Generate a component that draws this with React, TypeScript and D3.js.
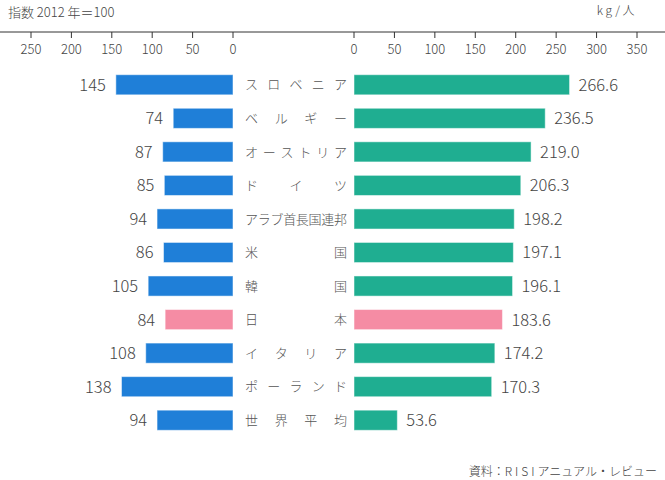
import React from "react";
import * as d3 from "d3";

const categories = ["スロベニア", "ベルギー", "オーストリア", "ドイツ", "アラブ首長国連邦", "米国", "韓国", "日本", "イタリア", "ポーランド", "世界平均"];
const indexValues = [145, 74, 87, 85, 94, 86, 105, 84, 108, 138, 94];
const kgValues = [266.6, 236.5, 219.0, 206.3, 198.2, 197.1, 196.1, 183.6, 174.2, 170.3, 53.6];
const leftTicks = [0, 50, 100, 150, 200, 250];
const rightTicks = [0, 50, 100, 150, 200, 250, 300, 350];
const highlight = "日本";

const W = 665, H = 480;
const FONT = "'Noto Sans CJK JP', 'Noto Sans', sans-serif";
const BLUE = "#1f7fd8", GREEN = "#1fae91", PINK = "#f58ca4";

export default function App() {
  const xL = d3.scaleLinear().domain([0, 250]).range([233, 31]);
  const xR = d3.scaleLinear().domain([0, 350]).range([354, 637]);
  const y = d3.scaleBand().domain(categories).range([68, 437]).paddingInner(0.4).paddingOuter(0.2);
  const bh = y.bandwidth();
  const axisY = 32;
  const labelL = 245, labelR = 347, charW = 13;

  return (
    <svg width={W} height={H} style={{ display: "block", position: "absolute", left: 0, top: 0 }} fontFamily={FONT} fontWeight={300}>
      <rect width={W} height={H} fill="#fff" />
      <text x={8} y={17} fontSize={13} fill="#444">指数 2012 年＝100</text>
      <text x={637} y={15} fontSize={12} fill="#444" textAnchor="end" letterSpacing={2.5}>kg/人</text>
      <line x1={0} x2={W} y1={axisY} y2={axisY} stroke="#333" strokeWidth={1} />
      {leftTicks.map(t => (
        <g key={"l" + t}>
          <line x1={xL(t)} x2={xL(t)} y1={axisY} y2={axisY + 6} stroke="#333" />
          <text x={xL(t)} y={axisY + 22} fontSize={13} fill="#444" textAnchor="middle">{t}</text>
        </g>
      ))}
      {rightTicks.map(t => (
        <g key={"r" + t}>
          <line x1={xR(t)} x2={xR(t)} y1={axisY} y2={axisY + 6} stroke="#333" />
          <text x={xR(t)} y={axisY + 22} fontSize={13} fill="#444" textAnchor="middle">{t}</text>
        </g>
      ))}
      {categories.map((c, i) => {
        const yy = y(c)!;
        const cy = yy + bh / 2;
        const isHi = c === highlight;
        const chars = Array.from(c);
        const n = chars.length;
        const leftCol = isHi ? PINK : BLUE;
        const rightCol = isHi ? PINK : GREEN;
        return (
          <g key={c}>
            <rect x={xL(indexValues[i])} y={yy} width={xL(0) - xL(indexValues[i])} height={bh} fill={leftCol} stroke="#fff" strokeOpacity={0.5} strokeWidth={1} />
            <text x={xL(indexValues[i]) - 10} y={cy} dy="0.36em" fontSize={16.5} fill="#444" textAnchor="end">{indexValues[i]}</text>
            <rect x={xR(0)} y={yy} width={xR(kgValues[i]) - xR(0)} height={bh} fill={rightCol} stroke="#fff" strokeOpacity={0.5} strokeWidth={1} />
            <text x={xR(kgValues[i]) + 9} y={cy} dy="0.36em" fontSize={16.5} fill="#444">{kgValues[i].toFixed(1)}</text>
            {chars.map((ch, k) => {
              const cx = n === 1 ? labelL + charW / 2 : labelL + charW / 2 + k * (labelR - labelL - charW) / (n - 1);
              return <text key={k} x={cx} y={cy} dy="0.36em" fontSize={13} fill="#555" textAnchor="middle">{ch}</text>;
            })}
          </g>
        );
      })}
      <text x={657} y={476} fontSize={12} fill="#444" textAnchor="end">資料：<tspan letterSpacing={3}>RISI</tspan>アニュアル・レビュー</text>
    </svg>
  );
}
